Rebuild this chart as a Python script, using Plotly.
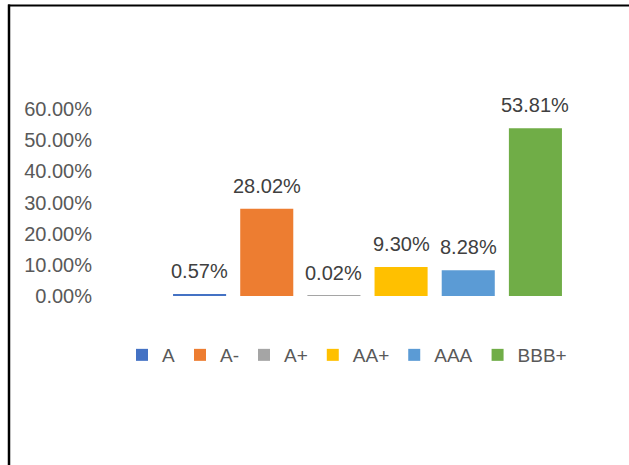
import plotly.graph_objects as go

categories = ["A", "A-", "A+", "AA+", "AAA", "BBB+"]
values = [0.0057, 0.2802, 0.0002, 0.0930, 0.0828, 0.5381]
colors = ["#4472C4", "#ED7D31", "#A5A5A5", "#FFC000", "#5B9BD5", "#70AD47"]
tick_vals = [0, 0.1, 0.2, 0.3, 0.4, 0.5, 0.6]

W, H = 629, 465
L, R, T, B = 166, 60, 109, 169
FONT = "Liberation Sans"
FS = 20
PW, PH = W - L - R, H - T - B


def px_x(x):
    return (x - L) / PW


def px_y(y):
    return (H - B - y) / PH


fig = go.Figure()
for c, v, col in zip(categories, values, colors):
    fig.add_trace(go.Bar(x=[c], y=[v], name=c, marker_color=col,
                         marker_line_width=0, showlegend=True))

for c, v in zip(categories, values):
    fig.add_annotation(x=c, y=v, text=f"{v*100:.2f}%", showarrow=False,
                       yanchor="bottom", yshift=10,
                       font=dict(family=FONT, size=FS, color="#404040"))

fig.update_layout(
    width=W, height=H,
    margin=dict(l=L, r=R, t=T, b=B, pad=0),
    paper_bgcolor="white", plot_bgcolor="white",
    barmode="overlay", bargap=0.21,
    font=dict(family=FONT, size=FS, color="#595959"),
    xaxis=dict(categoryorder="array", categoryarray=categories,
               showticklabels=False, showgrid=False, zeroline=False,
               showline=False, range=[-0.5, 5.5]),
    yaxis=dict(range=[0, 0.6], tickvals=tick_vals, tickformat=".2%",
               showgrid=False, zeroline=False, showline=False,
               ticklabelstandoff=73,
               tickfont=dict(family=FONT, size=FS, color="#595959")),
    legend=dict(orientation="h", xref="paper", yref="paper",
                x=px_x(122), xanchor="left", y=px_y(355), yanchor="middle",
                itemwidth=30, traceorder="normal",
                font=dict(family=FONT, size=19, color="#595959"),
                itemclick=False, tracegroupgap=0),
    shapes=[
        dict(type="line", xref="paper", yref="paper",
             x0=px_x(9), x1=px_x(9), y0=px_y(4.5), y1=px_y(H + 5),
             line=dict(color="black", width=2.5)),
        dict(type="line", xref="paper", yref="paper",
             x0=px_x(8), x1=px_x(W), y0=px_y(5.5), y1=px_y(5.5),
             line=dict(color="black", width=2)),
    ],
)

fig.write_html("out.html", config={"displayModeBar": False},
               post_script="document.body.style.margin='0px';")
